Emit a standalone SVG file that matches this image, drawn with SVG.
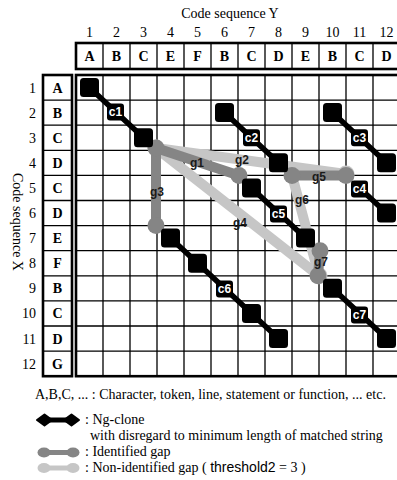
<svg xmlns="http://www.w3.org/2000/svg" width="397" height="480" viewBox="0 0 397 480">
  <style>
    .serif { font-family: "Liberation Serif", "Times New Roman", serif; fill: #000; }
    .num { font-size: 14px; text-anchor: middle; }
    .rnum { font-size: 14px; text-anchor: end; }
    .sym { font-size: 14px; font-weight: bold; text-anchor: middle; }
    .title { font-size: 14px; text-anchor: middle; }
    .legend { font-size: 14px; }
    .sans { font-family: "Liberation Sans", Arial, sans-serif; }
    .grid { stroke: #000; stroke-width: 1.3; fill: none; }
    .frame { stroke: #000; stroke-width: 2.6; fill: none; }
    .gap-id { stroke: #858585; stroke-width: 10; stroke-linecap: round; fill: none; }
    .gap-non { stroke: #c6c6c6; stroke-width: 10; stroke-linecap: round; fill: none; }
    .dot-id { fill: #858585; }
    .dot-non { fill: #c6c6c6; }
    .link { stroke: #000; stroke-width: 5.5; stroke-linecap: round; fill: none; }
    .cell { fill: #000; }
    .tag { font-family: "Liberation Sans", Arial, sans-serif; font-size: 12px; font-weight: bold; fill: #fff; text-anchor: middle; }
    .glabel { font-family: "Liberation Sans", Arial, sans-serif; font-size: 12px; font-weight: bold; fill: #1a1a1a; text-anchor: middle; }
  </style>
  <defs>
    <rect id="sq" x="-9.5" y="-9.5" width="19" height="19" rx="3.5" class="cell"/>
    <rect id="tagbox" x="-8.5" y="-8.5" width="17" height="17" rx="3" class="cell"/>
    <circle id="dotA" r="8.5" class="dot-id"/>
    <circle id="dotB" r="8.5" class="dot-non"/>
  </defs>
  <rect width="397" height="480" fill="#fff"/>

  <!-- axis titles -->
  <text class="serif title" x="230" y="18">Code sequence Y</text>
  <text class="serif title" transform="translate(13,222) rotate(90)" x="0" y="0">Code sequence X</text>

  <!-- column indices -->
  <g id="col-index" class="serif num">
    <text x="89.5" y="37">1</text><text x="116.5" y="37">2</text><text x="143.5" y="37">3</text>
    <text x="170.5" y="37">4</text><text x="197.5" y="37">5</text><text x="224.5" y="37">6</text>
    <text x="251.5" y="37">7</text><text x="278.5" y="37">8</text><text x="305.5" y="37">9</text>
    <text x="332.5" y="37">10</text><text x="359.5" y="37">11</text><text x="386.5" y="37">12</text>
  </g>

  <!-- sequence Y header -->
  <g id="header-y">
    <rect class="frame" x="76" y="43" width="330" height="26"/>
    <path class="grid" d="M103 43V69M130 43V69M157 43V69M184 43V69M211 43V69M238 43V69M265 43V69M292 43V69M319 43V69M346 43V69M373 43V69"/>
    <g class="serif sym">
      <text x="89.5" y="60.5">A</text><text x="116.5" y="60.5">B</text><text x="143.5" y="60.5">C</text>
      <text x="170.5" y="60.5">E</text><text x="197.5" y="60.5">F</text><text x="224.5" y="60.5">B</text>
      <text x="251.5" y="60.5">C</text><text x="278.5" y="60.5">D</text><text x="305.5" y="60.5">E</text>
      <text x="332.5" y="60.5">B</text><text x="359.5" y="60.5">C</text><text x="386.5" y="60.5">D</text>
    </g>
  </g>

  <!-- row indices -->
  <g id="row-index" class="serif rnum">
    <text x="36" y="92.5">1</text><text x="36" y="117.6">2</text><text x="36" y="142.7">3</text>
    <text x="36" y="167.8">4</text><text x="36" y="192.9">5</text><text x="36" y="218">6</text>
    <text x="36" y="243.1">7</text><text x="36" y="268.2">8</text><text x="36" y="293.3">9</text>
    <text x="36" y="318.4">10</text><text x="36" y="343.5">11</text><text x="36" y="368.6">12</text>
  </g>

  <!-- sequence X header -->
  <g id="header-x">
    <rect class="frame" x="43" y="75" width="29" height="301.2"/>
    <path class="grid" d="M43 100.1H72M43 125.2H72M43 150.3H72M43 175.4H72M43 200.5H72M43 225.6H72M43 250.7H72M43 275.8H72M43 300.9H72M43 326H72M43 351.1H72"/>
    <g class="serif sym">
      <text x="57.5" y="92.5">A</text><text x="57.5" y="117.6">B</text><text x="57.5" y="142.7">C</text>
      <text x="57.5" y="167.8">D</text><text x="57.5" y="192.9">C</text><text x="57.5" y="218">D</text>
      <text x="57.5" y="243.1">E</text><text x="57.5" y="268.2">F</text><text x="57.5" y="293.3">B</text>
      <text x="57.5" y="318.4">C</text><text x="57.5" y="343.5">D</text><text x="57.5" y="368.6">G</text>
    </g>
  </g>

  <!-- match matrix -->
  <g id="matrix">
    <rect x="76" y="75" width="330" height="301.2" fill="#fff"/>
    <path class="grid" d="M103 75V376.2M130 75V376.2M157 75V376.2M184 75V376.2M211 75V376.2M238 75V376.2M265 75V376.2M292 75V376.2M319 75V376.2M346 75V376.2M373 75V376.2"/>
    <path class="grid" d="M76 100.1H406M76 125.2H406M76 150.3H406M76 175.4H406M76 200.5H406M76 225.6H406M76 250.7H406M76 275.8H406M76 300.9H406M76 326H406M76 351.1H406"/>
    <rect class="frame" x="76" y="75" width="330" height="301.2"/>
  </g>

  <!-- gaps between clones -->
  <g id="connectors">
    <g id="g2"><line class="gap-non" x1="156" y1="148" x2="346" y2="174"/><use href="#dotB" x="156" y="148"/><use href="#dotB" x="346" y="174"/></g>
    <g id="g4"><line class="gap-non" x1="156" y1="148" x2="319" y2="275.8"/><use href="#dotB" x="319" y="275.8"/></g>
    <g id="g6"><line class="gap-non" x1="292" y1="175.4" x2="319" y2="275.8"/></g>
    <g id="g1"><line class="gap-id" x1="156" y1="148" x2="239" y2="175.4"/><use href="#dotA" x="239" y="175.4"/></g>
    <g id="g3"><line class="gap-id" x1="156" y1="148" x2="156" y2="225.6"/><use href="#dotA" x="156" y="148"/><use href="#dotA" x="156" y="225.6"/></g>
    <g id="g5"><line class="gap-id" x1="292" y1="175.4" x2="346" y2="175.4"/><use href="#dotA" x="292" y="175.4"/><use href="#dotA" x="346" y="175.4"/></g>
    <g id="g7"><line class="gap-id" x1="320" y1="250.7" x2="318" y2="275.8"/><use href="#dotA" x="320" y="250.7"/><use href="#dotA" x="318" y="275.8"/></g>
    <g class="glabel">
      <text x="197" y="167">g1</text>
      <text x="242" y="164">g2</text>
      <text x="157" y="196">g3</text>
      <text x="240" y="227">g4</text>
      <text x="319" y="181">g5</text>
      <text x="302" y="204">g6</text>
      <text x="321" y="266">g7</text>
    </g>
  </g>

  <!-- clones -->
  <g id="c1">
    <path class="link" d="M89.5 87.5L143.5 137.7"/>
    <use href="#sq" x="89.5" y="87.5"/><use href="#sq" x="143.5" y="137.7"/>
    <use href="#tagbox" x="115.5" y="112"/><text class="tag" x="115.5" y="116.3">c1</text>
  </g>
  <g id="c2">
    <path class="link" d="M224.5 112.6L278.5 162.8"/>
    <use href="#sq" x="224.5" y="112.6"/><use href="#sq" x="278.5" y="162.8"/>
    <use href="#tagbox" x="251.5" y="137.7"/><text class="tag" x="251.5" y="142">c2</text>
  </g>
  <g id="c3">
    <path class="link" d="M332.5 112.6L386.5 162.8"/>
    <use href="#sq" x="332.5" y="112.6"/><use href="#sq" x="386.5" y="162.8"/>
    <use href="#tagbox" x="359.5" y="137.7"/><text class="tag" x="359.5" y="142">c3</text>
  </g>
  <g id="c4">
    <path class="link" d="M359.5 187.9L386.5 213"/>
    <use href="#sq" x="386.5" y="213"/>
    <use href="#tagbox" x="359.5" y="189"/><text class="tag" x="359.5" y="193.3">c4</text>
  </g>
  <g id="c5">
    <path class="link" d="M251.5 187.9L305.5 238.1"/>
    <use href="#sq" x="251.5" y="187.9"/><use href="#sq" x="305.5" y="238.1"/>
    <use href="#tagbox" x="278.5" y="214"/><text class="tag" x="278.5" y="218.3">c5</text>
  </g>
  <g id="c6">
    <path class="link" d="M170.5 238.1L278.5 338.5"/>
    <use href="#sq" x="170.5" y="238.1"/><use href="#sq" x="197.5" y="263.2"/>
    <use href="#sq" x="251.5" y="313.4"/><use href="#sq" x="278.5" y="338.5"/>
    <use href="#tagbox" x="224.5" y="289"/><text class="tag" x="224.5" y="293.3">c6</text>
  </g>
  <g id="c7">
    <path class="link" d="M332.5 288.3L386.5 338.5"/>
    <use href="#sq" x="332.5" y="288.3"/><use href="#sq" x="386.5" y="338.5"/>
    <use href="#tagbox" x="359.5" y="315"/><text class="tag" x="359.5" y="319.3">c7</text>
  </g>

  <!-- legend -->
  <g id="legend">
    <text class="serif legend" x="35" y="399">A,B,C, ... : Character, token, line, statement or function, ... etc.</text>
    <path d="M44 420H72" stroke="#000" stroke-width="5"/>
    <path d="M37 420L44.5 414.5L52 420L44.5 425.5Z" fill="#000" stroke="#000" stroke-width="2" stroke-linejoin="round"/>
    <path d="M64 420L71.5 414.5L79 420L71.5 425.5Z" fill="#000" stroke="#000" stroke-width="2" stroke-linejoin="round"/>
    <text class="serif legend" x="85" y="424">: Ng-clone</text>
    <text class="serif legend" x="90" y="440">with disregard to minimum length of matched string</text>
    <path d="M44 452.5H73" stroke="#858585" stroke-width="5"/>
    <ellipse cx="44" cy="452.5" rx="6.5" ry="5" fill="#858585"/>
    <ellipse cx="73" cy="452.5" rx="6.5" ry="5" fill="#858585"/>
    <text class="serif legend" x="85" y="456">: Identified gap</text>
    <path d="M44 468H73" stroke="#c6c6c6" stroke-width="5"/>
    <ellipse cx="44" cy="468" rx="6.5" ry="5" fill="#c6c6c6"/>
    <ellipse cx="73" cy="468" rx="6.5" ry="5" fill="#c6c6c6"/>
    <text class="serif legend" x="85" y="472">: Non-identified gap ( <tspan class="sans">threshold2</tspan> = 3 )</text>
  </g>
</svg>
